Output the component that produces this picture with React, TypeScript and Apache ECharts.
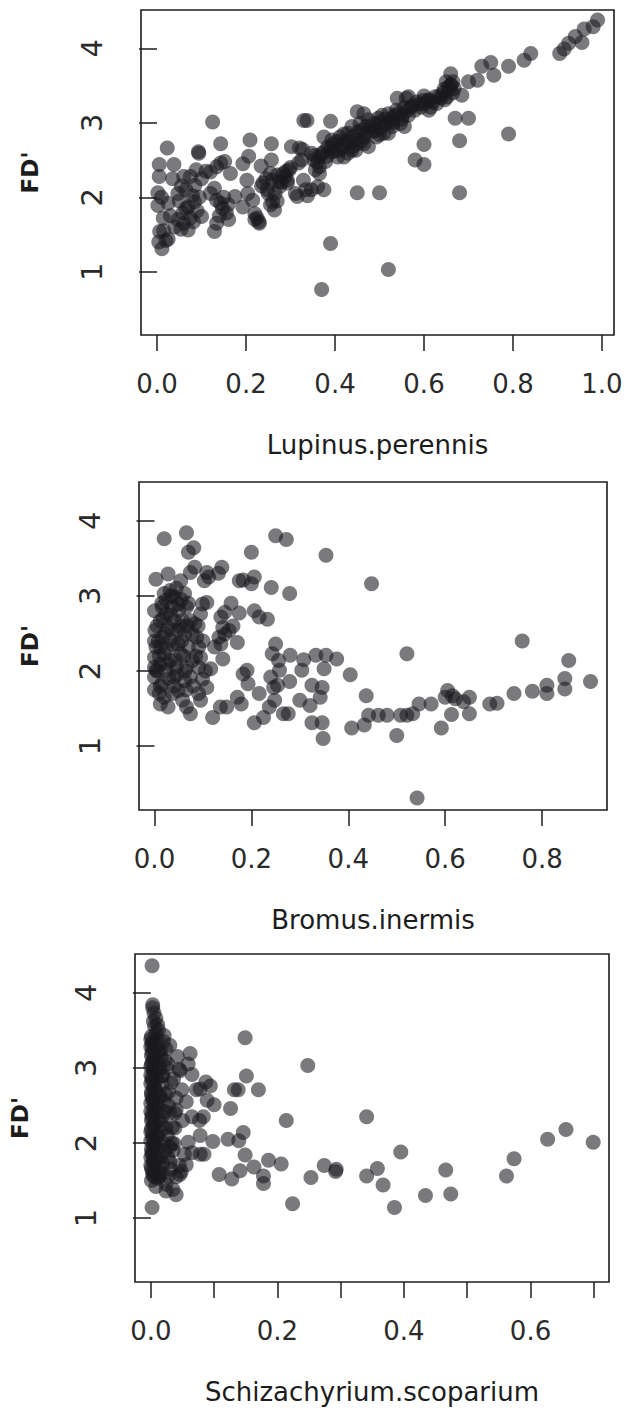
import React, { useEffect, useRef } from "react";
import * as echarts from "echarts";

// ---- data (x = species cover, y = FD') ----
const lupinusPoints: number[][] = [
  [0.99, 4.38], [0.98, 4.29], [0.96, 4.26], [0.94, 4.16], [0.955, 4.08], [0.925, 4.07], [0.915, 3.99], [0.905, 3.93],
  [0.84, 3.93], [0.825, 3.84], [0.79, 3.76], [0.75, 3.81], [0.757, 3.64], [0.73, 3.76], [0.72, 3.57], [0.7, 3.55],
  [0.66, 3.66], [0.65, 3.55], [0.685, 3.37], [0.66, 3.5],
  [0.37, 0.76], [0.39, 1.38], [0.52, 1.03], [0.45, 2.06], [0.5, 2.06], [0.68, 2.06], [0.58, 2.5], [0.6, 2.44],
  [0.6, 2.71], [0.68, 2.76], [0.79, 2.85], [0.67, 3.06], [0.7, 3.06], [0.125, 3.01], [0.33, 3.03], [0.337, 3.03],
  [0.39, 3.02], [0.45, 3.15], [0.465, 3.12], [0.54, 3.33], [0.56, 3.33], [0.565, 3.35], [0.6, 3.36], [0.61, 3.3],
  [0.023, 2.66], [0.005, 2.44], [0.038, 2.44], [0.005, 2.28], [0.002, 2.06], [0.002, 1.89], [0.014, 1.72], [0.006, 1.54],
  [0.004, 1.4], [0.011, 1.31], [0.025, 1.44], [0.025, 1.92], [0.047, 1.7], [0.047, 2.05], [0.06, 2.28], [0.065, 2.1],
  [0.07, 1.87], [0.07, 1.56], [0.054, 1.57], [0.082, 1.67], [0.084, 1.94], [0.085, 2.16], [0.088, 2.37], [0.093, 2.61],
  [0.094, 2.59], [0.075, 2.28], [0.1, 1.74], [0.058, 1.79], [0.12, 2.34], [0.143, 2.72], [0.143, 2.46], [0.152, 2.48],
  [0.134, 2.41], [0.129, 2.12], [0.12, 2.05], [0.134, 1.96], [0.143, 1.92], [0.147, 1.85], [0.156, 1.79], [0.161, 1.7],
  [0.134, 1.65], [0.129, 1.54], [0.165, 2.32], [0.175, 2.01], [0.193, 1.87], [0.193, 2.45], [0.206, 2.55], [0.209, 2.77],
  [0.202, 2.23], [0.204, 2.05], [0.215, 1.96], [0.225, 1.72], [0.229, 1.67], [0.22, 1.78], [0.234, 2.42], [0.238, 2.19],
  [0.247, 2.1], [0.257, 2.72], [0.257, 2.5], [0.255, 2.32], [0.26, 2.23], [0.265, 2.05], [0.26, 1.94], [0.264, 1.83],
  [0.275, 2.14], [0.284, 2.32], [0.293, 2.23], [0.297, 2.37], [0.302, 2.68], [0.311, 2.05], [0.318, 2.46], [0.327, 2.64],
  [0.329, 2.23], [0.334, 2.1], [0.347, 2.1], [0.361, 2.14], [0.375, 2.1], [0.338, 2.02], [0.315, 2.01], [0.293, 2.19],
  [0.275, 2.21], [0.288, 2.28], [0.32, 2.66], [0.325, 2.5],
  [0.347, 2.59], [0.352, 2.5], [0.365, 2.54], [0.365, 2.41], [0.375, 2.61], [0.379, 2.48], [0.384, 2.68], [0.393, 2.61],
  [0.397, 2.72], [0.375, 2.81], [0.411, 2.81], [0.406, 2.54], [0.42, 2.68], [0.425, 2.77], [0.429, 2.86], [0.438, 2.63],
  [0.438, 2.95], [0.447, 2.77], [0.452, 2.88], [0.456, 2.99], [0.465, 2.81], [0.47, 2.95], [0.475, 3.04], [0.484, 2.88],
  [0.488, 2.99], [0.497, 3.06], [0.502, 2.93], [0.506, 3.1], [0.515, 2.99], [0.52, 3.12], [0.529, 3.06], [0.538, 3.17],
  [0.547, 2.99], [0.552, 3.1], [0.556, 3.21], [0.565, 3.1], [0.57, 3.21], [0.579, 3.17], [0.584, 3.28], [0.593, 3.21],
  [0.602, 3.26], [0.611, 3.31], [0.615, 3.21], [0.625, 3.35], [0.629, 3.26], [0.638, 3.33], [0.643, 3.4], [0.652, 3.35],
  [0.656, 3.44], [0.661, 3.51], [0.664, 3.4], [0.647, 3.31], [0.611, 3.17], [0.556, 2.95], [0.429, 2.59], [0.411, 2.63],
  [0.393, 2.77], [0.356, 2.37], [0.365, 2.32], [0.42, 2.54], [0.447, 2.63], [0.465, 2.72], [0.475, 2.68], [0.493, 2.81],
  [0.51, 2.86], [0.529, 2.95], [0.52, 2.86],
  [0.355, 2.56], [0.36, 2.47], [0.37, 2.58], [0.382, 2.55], [0.39, 2.66], [0.4, 2.62], [0.405, 2.75], [0.415, 2.7],
  [0.43, 2.74], [0.44, 2.82], [0.45, 2.72], [0.46, 2.9], [0.468, 2.86], [0.48, 2.95], [0.49, 2.9], [0.5, 3.0],
  [0.512, 3.05], [0.525, 3.02], [0.535, 3.1], [0.545, 3.14], [0.56, 3.16], [0.575, 3.23], [0.59, 3.25], [0.598, 3.3],
  [0.62, 3.28], [0.635, 3.36], [0.645, 3.45], [0.655, 3.48], [0.665, 3.55], [0.668, 3.46], [0.42, 2.85], [0.44, 2.68],
  [0.46, 2.76], [0.5, 2.84], [0.53, 3.0], [0.55, 3.05],
  [0.01, 2.0], [0.015, 1.55], [0.03, 1.75], [0.04, 1.6], [0.05, 1.95], [0.06, 1.65], [0.065, 1.85], [0.075, 1.72],
  [0.08, 2.02], [0.09, 1.82], [0.095, 2.0], [0.1, 2.25], [0.055, 2.15], [0.035, 2.25], [0.02, 1.42], [0.11, 2.35],
  [0.15, 2.0], [0.16, 1.9], [0.14, 1.75], [0.235, 2.15], [0.245, 2.25], [0.25, 2.05], [0.27, 2.3], [0.28, 2.2],
  [0.29, 2.35], [0.3, 2.4], [0.22, 1.7], [0.23, 1.65], [0.27, 1.95], [0.255, 1.9]
];

const bromusPoints: number[][] = [
  [0.02, 3.76], [0.066, 3.84], [0.07, 3.58], [0.081, 3.64], [0.25, 3.8], [0.272, 3.75], [0.2, 3.58], [0.354, 3.54],
  [0.448, 3.16], [0.542, 0.31], [0.521, 2.23], [0.759, 2.4], [0.855, 2.14], [0.9, 1.86], [0.847, 1.9], [0.847, 1.76],
  [0.81, 1.81], [0.81, 1.7], [0.78, 1.73], [0.742, 1.7], [0.707, 1.57], [0.692, 1.56], [0.65, 1.65], [0.65, 1.43],
  [0.638, 1.59], [0.621, 1.63], [0.615, 1.67], [0.605, 1.74], [0.6, 1.65], [0.613, 1.42], [0.592, 1.24], [0.571, 1.56],
  [0.546, 1.56], [0.533, 1.43], [0.521, 1.41], [0.508, 1.41], [0.5, 1.14], [0.48, 1.41], [0.462, 1.41], [0.442, 1.41],
  [0.437, 1.67], [0.433, 1.28], [0.407, 1.24], [0.404, 1.95], [0.376, 2.16], [0.354, 2.21], [0.35, 2.03], [0.333, 2.21],
  [0.346, 1.78], [0.342, 1.65], [0.325, 1.81], [0.321, 1.54], [0.325, 1.31], [0.346, 1.31], [0.348, 1.1], [0.3, 1.61],
  [0.304, 2.01], [0.308, 2.15], [0.28, 2.21], [0.276, 1.43], [0.266, 1.43], [0.279, 1.86], [0.258, 2.01], [0.256, 2.14],
  [0.25, 2.36], [0.243, 2.23], [0.24, 1.92], [0.246, 1.78], [0.254, 1.81], [0.248, 1.61], [0.237, 1.52], [0.225, 1.38],
  [0.206, 1.31], [0.216, 1.7], [0.193, 1.83], [0.191, 2.01], [0.183, 1.96], [0.179, 1.56], [0.171, 1.65], [0.149, 1.52],
  [0.136, 1.52], [0.12, 1.38], [0.216, 2.72], [0.233, 2.69], [0.206, 2.8], [0.241, 3.11], [0.279, 3.03], [0.2, 3.16],
  [0.206, 3.25], [0.175, 3.2], [0.183, 3.21], [0.139, 3.38], [0.132, 3.3], [0.108, 3.31], [0.103, 3.2], [0.112, 3.25],
  [0.083, 3.38], [0.074, 3.31], [0.054, 3.2], [0.028, 3.29], [0.003, 3.22], [0.158, 2.9], [0.145, 2.78], [0.137, 2.72],
  [0.175, 2.77], [0.141, 2.58], [0.154, 2.54], [0.162, 2.6], [0.145, 2.49], [0.133, 2.45], [0.137, 2.36], [0.124, 2.32],
  [0.141, 2.16], [0.171, 2.38], [0.099, 2.89], [0.108, 2.91], [0.095, 2.76], [0.083, 2.63], [0.087, 2.45], [0.091, 2.32],
  [0.095, 2.18], [0.091, 2.05], [0.116, 2.03], [0.099, 1.89], [0.108, 1.78], [0.091, 1.7], [0.095, 1.61], [0.074, 1.43],
  [0.066, 1.52], [0.058, 1.61], [0.028, 1.52], [0.012, 1.56], [0.01, 1.7], [0.0, 1.92], [0.003, 2.01], [0.0, 2.18],
  [0.003, 2.32], [0.001, 2.54], [0.0, 2.8], [0.012, 2.67], [0.016, 2.85], [0.02, 3.03], [0.024, 2.94], [0.032, 3.07],
  [0.041, 2.98], [0.049, 2.89], [0.062, 3.03], [0.066, 2.85], [0.074, 2.67], [0.062, 2.49], [0.041, 2.67], [0.028, 2.58],
  [0.032, 2.41], [0.016, 2.45], [0.02, 2.23], [0.032, 2.14], [0.024, 2.01], [0.041, 1.92], [0.016, 1.83], [0.049, 1.74],
  [0.037, 1.7], [0.062, 1.87], [0.066, 2.05], [0.054, 2.23], [0.07, 2.32], [0.049, 2.36], [0.078, 2.14], [0.037, 2.85],
  [0.012, 2.32], [0.024, 2.76], [0.012, 2.09], [0.045, 2.05], [0.058, 2.67], [0.049, 2.54], [0.074, 1.92], [0.078, 2.49],
  [0.005, 2.6], [0.008, 2.4], [0.01, 2.2], [0.006, 2.0], [0.012, 1.8], [0.015, 2.9], [0.018, 2.7], [0.022, 2.5],
  [0.025, 2.3], [0.027, 2.1], [0.03, 1.9], [0.033, 2.75], [0.036, 2.55], [0.04, 2.35], [0.043, 2.15], [0.046, 1.95],
  [0.05, 2.8], [0.053, 2.6], [0.056, 2.4], [0.06, 2.2], [0.063, 2.0], [0.067, 2.6], [0.07, 2.9], [0.035, 3.0],
  [0.045, 3.1], [0.055, 2.95], [0.02, 1.65], [0.04, 1.8], [0.065, 1.75], [0.08, 1.8], [0.085, 2.2], [0.09, 2.6],
  [0.1, 2.4], [0.105, 2.0], [0.0, 2.4], [0.0, 2.05], [0.0, 1.75]
];

const schizachyriumPoints: number[][] = [
  [0.002, 4.36], [0.002, 1.14], [0.149, 3.4], [0.248, 3.03], [0.341, 2.35], [0.656, 2.18], [0.627, 2.05], [0.699, 2.01],
  [0.574, 1.79], [0.562, 1.56], [0.466, 1.64], [0.474, 1.32], [0.434, 1.3], [0.385, 1.14], [0.395, 1.88], [0.367, 1.44],
  [0.358, 1.66], [0.341, 1.56], [0.293, 1.65], [0.292, 1.62], [0.274, 1.7], [0.253, 1.54], [0.224, 1.19], [0.214, 2.3],
  [0.206, 1.72], [0.186, 1.77], [0.178, 1.56], [0.178, 1.46], [0.163, 1.68], [0.17, 2.71], [0.151, 2.89], [0.149, 1.84],
  [0.146, 2.14], [0.139, 2.03], [0.141, 1.63], [0.128, 1.52], [0.122, 2.05], [0.126, 2.46], [0.108, 1.58], [0.138, 2.71],
  [0.132, 2.71], [0.098, 2.02], [0.1, 2.51], [0.089, 2.57], [0.094, 2.76], [0.087, 2.81], [0.078, 2.72], [0.072, 2.71],
  [0.083, 2.35], [0.077, 2.3], [0.065, 2.35], [0.078, 2.1], [0.084, 1.85], [0.078, 1.85], [0.065, 1.87], [0.059, 2.01],
  [0.056, 1.71], [0.046, 1.58], [0.04, 1.31], [0.024, 1.36], [0.062, 3.19], [0.059, 3.05], [0.065, 2.91], [0.046, 2.96],
  [0.049, 2.71], [0.056, 2.55], [0.04, 2.44], [0.034, 2.21], [0.037, 1.99], [0.027, 1.81], [0.027, 3.05], [0.024, 3.25],
  [0.021, 3.43], [0.011, 3.57], [0.008, 3.66], [0.003, 3.84], [0.003, 3.8], [0.005, 3.73], [0.015, 3.23], [0.018, 2.89],
  [0.015, 2.62], [0.018, 2.35], [0.011, 2.08], [0.015, 1.81], [0.011, 1.53], [0.008, 1.42], [0.004, 3.62], [0.006, 3.55],
  [0.012, 3.5], [0.001, 3.42], [0.003, 3.35], [0.0, 3.28], [0.002, 3.2], [0.005, 3.12], [0.001, 3.05], [0.004, 2.98],
  [0.0, 2.9], [0.002, 2.83], [0.006, 2.76], [0.001, 2.68], [0.003, 2.6], [0.0, 2.53], [0.005, 2.46], [0.002, 2.38],
  [0.001, 2.3], [0.004, 2.22], [0.0, 2.15], [0.003, 2.07], [0.006, 2.0], [0.001, 1.92], [0.002, 1.85], [0.004, 1.77],
  [0.0, 1.7], [0.003, 1.62], [0.005, 1.55], [0.001, 1.5], [0.009, 3.3], [0.01, 3.1], [0.012, 2.95], [0.008, 2.7],
  [0.011, 2.5], [0.013, 2.3], [0.009, 2.1], [0.012, 1.9], [0.01, 1.7], [0.014, 1.6], [0.016, 3.15], [0.018, 2.78],
  [0.02, 2.55], [0.017, 2.25], [0.02, 2.0], [0.019, 1.72], [0.025, 3.0], [0.028, 2.68], [0.03, 2.4], [0.026, 2.1],
  [0.03, 1.95], [0.032, 1.65], [0.024, 1.45], [0.036, 2.85], [0.038, 2.2], [0.035, 1.9], [0.04, 2.6], [0.045, 2.98],
  [0.05, 2.3], [0.053, 1.85], [0.048, 1.62],
  [0.0, 3.38], [0.002, 3.31], [0.004, 3.24], [0.001, 3.16], [0.003, 3.08], [0.0, 3.01], [0.005, 2.94], [0.002, 2.87],
  [0.0, 2.79], [0.004, 2.72], [0.001, 2.64], [0.003, 2.57], [0.006, 2.5], [0.0, 2.42], [0.002, 2.34], [0.005, 2.26],
  [0.001, 2.19], [0.003, 2.11], [0.0, 2.03], [0.004, 1.96], [0.002, 1.88], [0.0, 1.81], [0.005, 1.73], [0.001, 1.66],
  [0.003, 1.58], [0.008, 3.45], [0.01, 3.38], [0.012, 3.2], [0.014, 3.0], [0.009, 2.85], [0.013, 2.62], [0.008, 2.4],
  [0.015, 2.15], [0.011, 1.95], [0.009, 1.78], [0.013, 1.55], [0.02, 3.35], [0.022, 3.1], [0.019, 2.9], [0.023, 2.65],
  [0.021, 2.42], [0.024, 2.2], [0.022, 1.9], [0.018, 1.6], [0.03, 3.3], [0.032, 2.8], [0.028, 2.5], [0.033, 2.0],
  [0.03, 1.75], [0.027, 1.55], [0.04, 1.55], [0.045, 1.7], [0.035, 1.38], [0.042, 3.15], [0.038, 2.4]
];

const panelNames = ["Lupinus.perennis", "Bromus.inermis", "Schizachyrium.scoparium"];
const yName = "FD'";
const yTickValues = [1, 2, 3, 4];
const xTickValues1 = [0, 0.2, 0.4, 0.6, 0.8, 1.0];
const xTickValues2 = [0, 0.2, 0.4, 0.6, 0.8];
const xTickValues3 = [0, 0.1, 0.2, 0.3, 0.4, 0.5, 0.6, 0.7];
const xLabelValues3 = [0, 0.2, 0.4, 0.6];

// ---- layout ----
const FONT = "DejaVu Sans";
const INK = "#1c1c1c";
const panels = [
  { data: lupinusPoints, grid: { left: 141, top: 10, width: 473, height: 325 }, xMin: -0.036, xMax: 1.027, ticks: xTickValues1, labels: xTickValues1, yGap: 100 },
  { data: bromusPoints, grid: { left: 139, top: 482, width: 468, height: 328 }, xMin: -0.032, xMax: 0.934, ticks: xTickValues2, labels: xTickValues2, yGap: 98 },
  { data: schizachyriumPoints, grid: { left: 128, top: 954, width: 481, height: 328 }, xMin: -0.025, xMax: 0.724, ticks: xTickValues3, labels: xLabelValues3, yGap: 104 },
];

export default function App() {
  const ref = useRef<HTMLDivElement>(null);
  useEffect(() => {
    document.body.style.margin = "0";
    if (!ref.current) return;
    const chart = echarts.init(ref.current, null, { renderer: "svg" });
    const option: any = {
      animation: false,
      backgroundColor: "#ffffff",
      grid: panels.map((p) => ({
        ...p.grid,
        show: true,
        borderColor: INK,
        borderWidth: 1.6,
        backgroundColor: "transparent",
        containLabel: false,
      })),
      xAxis: panels.map((p, i) => ({
        type: "value",
        gridIndex: i,
        min: p.xMin,
        max: p.xMax,
        name: panelNames[i],
        nameLocation: "middle",
        nameGap: 97,
        nameTextStyle: { fontFamily: FONT, fontSize: 26, color: INK },
        axisLine: { show: false },
        splitLine: { show: false },
        axisTick: { show: true, inside: false, length: 16, customValues: p.ticks, lineStyle: { color: INK, width: 1.5 } },
        axisLabel: {
          show: true,
          customValues: p.labels,
          margin: 36,
          fontFamily: FONT,
          fontSize: 26,
          color: "#2a2a2a",
          formatter: (v: number) => v.toFixed(1),
        },
      })),
      yAxis: panels.map((p, i) => ({
        type: "value",
        gridIndex: i,
        min: 0.15,
        max: 4.515,
        name: yName,
        nameLocation: "middle",
        nameRotate: 90,
        nameGap: p.yGap,
        nameTextStyle: { fontFamily: FONT, fontSize: 23, fontWeight: "bold", color: INK },
        axisLine: { show: false },
        splitLine: { show: false },
        axisTick: { show: true, inside: false, length: 18, customValues: yTickValues, lineStyle: { color: INK, width: 1.5 } },
        axisLabel: {
          show: true,
          customValues: yTickValues,
          rotate: 90,
          margin: 35,
          fontFamily: FONT,
          fontSize: 29,
          color: "#2a2a2a",
          formatter: (v: number) => String(v),
        },
      })),
      series: panels.map((p, i) => ({
        type: "scatter",
        xAxisIndex: i,
        yAxisIndex: i,
        data: p.data,
        symbol: "circle",
        symbolSize: 15,
        itemStyle: { color: "rgba(24,24,30,0.72)", borderWidth: 0 },
        emphasis: { disabled: true },
      })),
    };
    chart.setOption(option);
    return () => chart.dispose();
  }, []);
  return <div ref={ref} style={{ width: 635, height: 1410 }} />;
}
